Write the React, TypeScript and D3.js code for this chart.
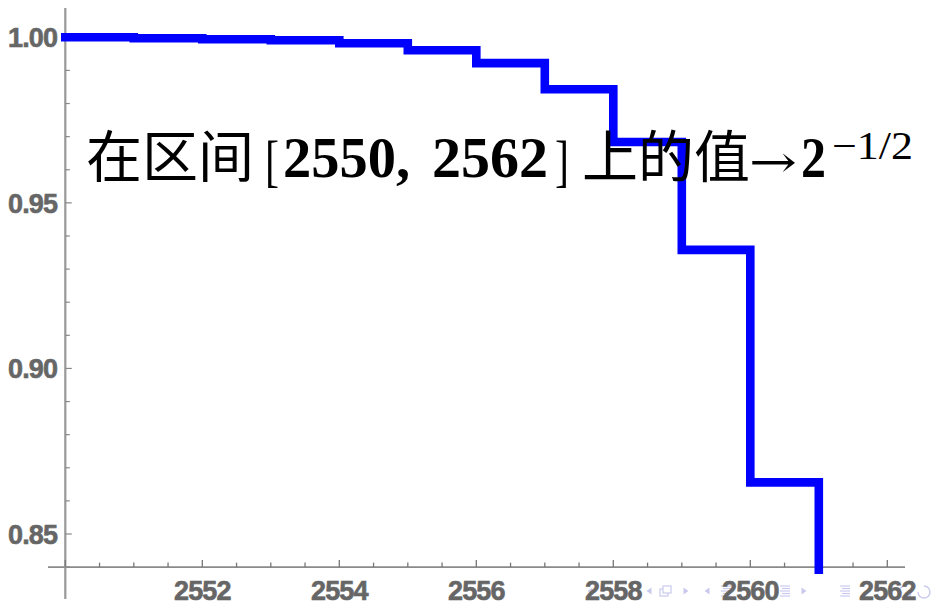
import React from "react";
import * as d3 from "d3";

// ---- data ----
const stepStarts = [2550, 2551, 2552, 2553, 2554, 2555, 2556, 2557, 2558, 2559, 2560, 2561];
const stepValues = [1.0, 0.9997, 0.9994, 0.9991, 0.9982, 0.9961, 0.9922, 0.9843, 0.9684, 0.9358, 0.8656, 0.7071];
const xEnd = 2562;
const xMajorTicks = [2552, 2554, 2556, 2558, 2560, 2562];
const yMajorTicks = [0.85, 0.9, 0.95, 1.0];
const yTickLabels = ["0.85", "0.90", "0.95", "1.00"];

const W = 932;
const H = 604;

export default function App() {
  const x = d3.scaleLinear().domain([2550, 2562]).range([65.3, 887.3]);
  const y = d3.scaleLinear().domain([0.85, 1.0]).range([534, 37.3]);
  const axisY = y(0.84);
  const axisX = x(2550);

  const pts: [number, number][] = stepStarts.map((s, i) => [s, stepValues[i]]);
  pts.push([xEnd, stepValues[stepValues.length - 1]]);
  const line = d3
    .line<[number, number]>()
    .x((d) => x(d[0]))
    .y((d) => y(d[1]))
    .curve(d3.curveStepAfter);

  const xMinor = d3.range(2550, 2562.01, 0.5);
  const yMinor = d3.range(0.84, 1.0001, 0.01);

  const labelFont = "'Liberation Sans', Arial, sans-serif";
  const navC = "#c9c9ee";

  const triL = (cx: number, cy: number) => `M${cx + 2.5},${cy - 3.5} L${cx - 2.5},${cy} L${cx + 2.5},${cy + 3.5} Z`;
  const triR = (cx: number, cy: number) => `M${cx - 2.5},${cy - 3.5} L${cx + 2.5},${cy} L${cx - 2.5},${cy + 3.5} Z`;
  const lines = (cx: number, cy: number) =>
    [-5, -2.5, 0, 2.5, 5].map((o, i) => (
      <line key={i} x1={cx - 5 + (i % 2) * 2} x2={cx + 5} y1={cy + o} y2={cy + o} stroke={navC} strokeWidth={1.2} />
    ));
  const navY = 591;
  const serif = "'Liberation Serif', serif";

  return (
    <svg width={W} height={H} style={{ position: "absolute", left: 0, top: 0, background: "#fff" }}>
      <defs>
        <clipPath id="plotclip">
          <rect x={0} y={0} width={W} height={574} />
        </clipPath>
      </defs>

      {/* nav symbols (faint) */}
      <g>
        <path d={triL(590, navY)} fill={navC} />
        <path d={triL(649, navY)} fill={navC} />
        <rect x={660} y={navY - 2} width={8} height={7} fill="none" stroke={navC} strokeWidth={1.2} />
        <rect x={663} y={navY - 5} width={8} height={7} fill="#fff" stroke={navC} strokeWidth={1.2} />
        <path d={triR(686, navY)} fill={navC} />
        <path d={triL(707, navY)} fill={navC} />
        {lines(726, navY)}
        {lines(785, navY)}
        <path d={triR(804, navY)} fill={navC} />
        {lines(845, navY)}
        <path d="M905,586 a6,6 0 1,0 6,6" fill="none" stroke={navC} strokeWidth={1.4} />
        <path d="M918,592 a6,6 0 1,0 6,-6" fill="none" stroke={navC} strokeWidth={1.4} />
      </g>

      {/* axes */}
      <line x1={48} x2={905} y1={axisY} y2={axisY} stroke="#8a8a8a" strokeWidth={1.6} />
      <line x1={axisX} x2={axisX} y1={8} y2={599} stroke="#999" strokeWidth={2.2} />

      {xMinor.map((v, i) => {
        const major = Math.abs(v - Math.round(v / 2) * 2) < 1e-6;
        return (
          <line key={"xt" + i} x1={x(v)} x2={x(v)} y1={axisY} y2={axisY - (major ? 7 : 4.5)} stroke="#777" strokeWidth={1.3} />
        );
      })}
      {yMinor.map((v, i) => {
        const major = Math.abs(v * 20 - Math.round(v * 20)) < 1e-6;
        return (
          <line key={"yt" + i} x1={axisX} x2={axisX + (major ? 6.5 : 4.5)} y1={y(v)} y2={y(v)} stroke="#888" strokeWidth={1.2} />
        );
      })}

      {yMajorTicks.map((v, i) => (
        <text
          key={"yl" + i}
          x={57}
          y={y(v) + 1}
          textAnchor="end"
          dominantBaseline="central"
          fontFamily={labelFont}
          fontWeight="bold"
          fontSize={27}
          letterSpacing={-0.9}
          fill="#666"
          stroke="#666"
          strokeWidth={0.6}
        >
          {yTickLabels[i]}
        </text>
      ))}
      {xMajorTicks.map((v, i) => (
        <text
          key={"xl" + i}
          x={x(v)}
          y={591}
          textAnchor="middle"
          dominantBaseline="central"
          fontFamily={labelFont}
          fontWeight="bold"
          fontSize={27}
          letterSpacing={-0.9}
          fill="#666"
          stroke="#666"
          strokeWidth={0.6}
        >
          {v}
        </text>
      ))}

      {/* step curve */}
      <g clipPath="url(#plotclip)">
        <path d={line(pts) || ""} fill="none" stroke="#0000ff" strokeWidth={8.6} strokeLinecap="square" />
      </g>

      {/* annotation */}
      <g fill="#000">
        <text x={86} y={177} fontFamily="'Noto Sans CJK SC', sans-serif" fontSize={56}>
          在区间
        </text>
        <text x={265} y={180} fontFamily={serif} fontSize={58} textLength={14} lengthAdjust="spacingAndGlyphs">
          [
        </text>
        <text x={283} y={177} fontFamily={serif} fontWeight="bold" fontSize={56} textLength={127} lengthAdjust="spacingAndGlyphs">
          2550,
        </text>
        <text x={432} y={177} fontFamily={serif} fontWeight="bold" fontSize={56} textLength={116} lengthAdjust="spacingAndGlyphs">
          2562
        </text>
        <text x={555} y={180} fontFamily={serif} fontSize={58} textLength={14} lengthAdjust="spacingAndGlyphs">
          ]
        </text>
        <text x={582} y={177} fontFamily="'Noto Sans CJK SC', sans-serif" fontSize={56}>
          上的值
        </text>
        <text x={749} y={177} fontFamily="'DejaVu Serif', serif" fontSize={44} textLength={48} lengthAdjust="spacingAndGlyphs">
          →
        </text>
        <text x={801} y={177} fontFamily={serif} fontWeight="bold" fontSize={56} textLength={25} lengthAdjust="spacingAndGlyphs">
          2
        </text>
        <text x={832} y={159} fontFamily={serif} fontSize={40} textLength={81} lengthAdjust="spacingAndGlyphs">
          −1/2
        </text>
      </g>
    </svg>
  );
}
